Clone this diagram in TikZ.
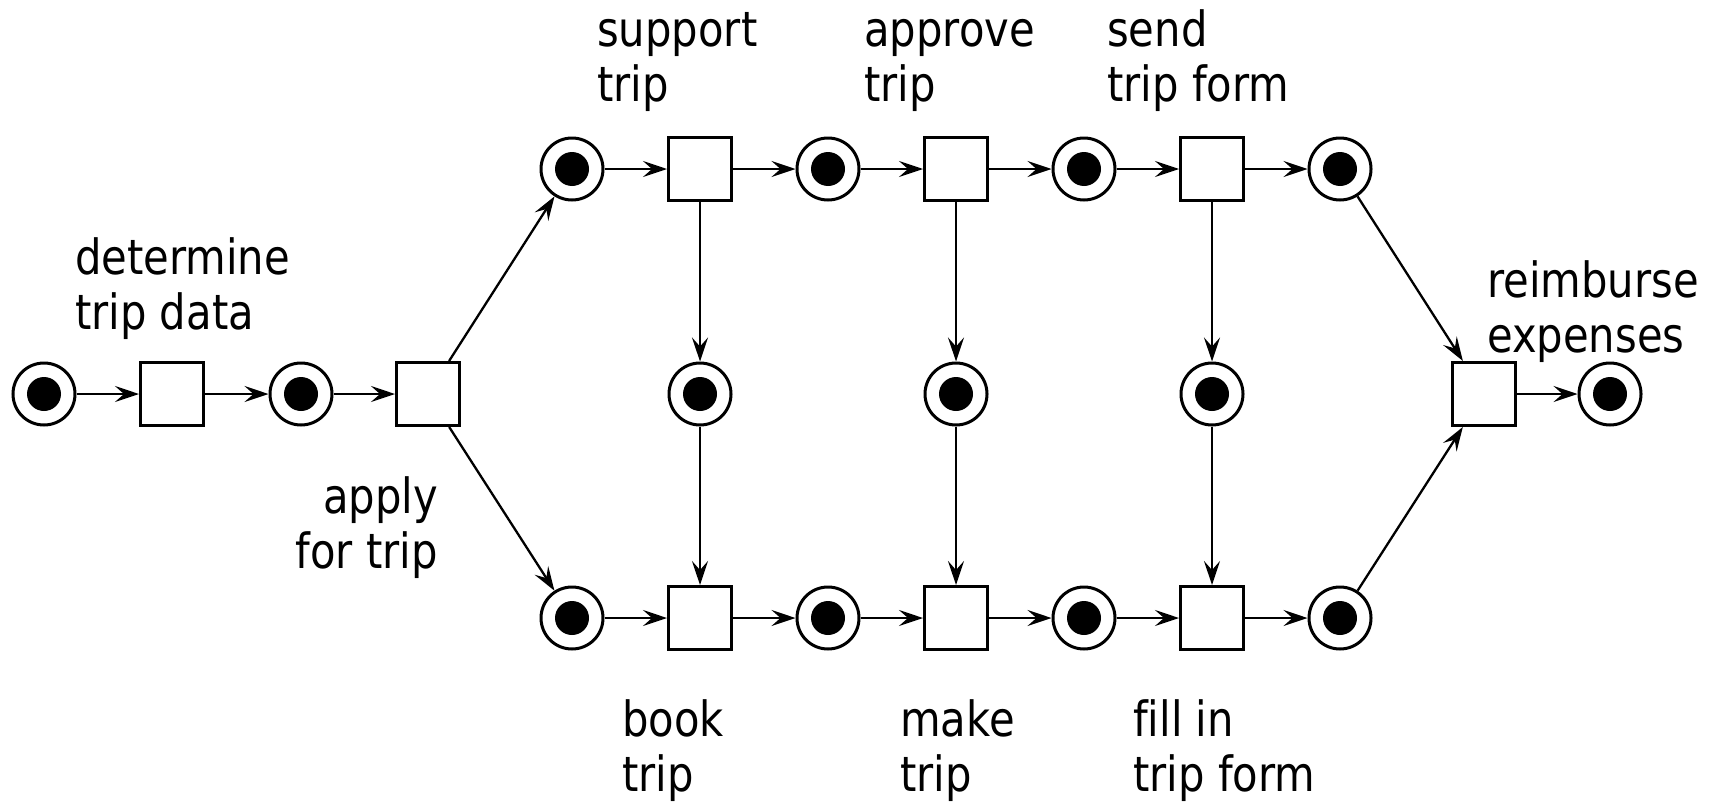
\documentclass[tikz,border=0pt]{standalone}
\usepackage{fontspec}
\setmainfont[FakeStretch=0.86,Ligatures=NoCommon]{DejaVu Sans}
\usetikzlibrary{arrows.meta}
\newcommand{\lleft}[1]{\vtop{\halign{##\hfil\cr#1\crcr}}}
\newcommand{\lright}[1]{\vtop{\halign{\hfil##\cr#1\crcr}}}
\begin{document}
\begin{tikzpicture}[x=1pt,y=-1pt,
  place/.style={circle,draw,line width=3pt,minimum size=62pt,inner sep=0pt,
    path picture={\fill (path picture bounding box.center) circle (17pt);}},
  trans/.style={rectangle,draw,line width=3pt,minimum size=63pt,inner sep=0pt},
  arc/.style={line width=2.3pt,-{Stealth[length=24pt,width=16pt,inset=9pt]}},
  lbl/.style={inner sep=0pt,font=\fontsize{48.5}{55}\selectfont}]
\useasboundingbox (0,0) rectangle (1715,803);
% places
\node[place] (p1) at (44,394) {};
\node[place] (p2) at (301,394) {};
\node[place] (pt1) at (572,169) {};
\node[place] (pt2) at (828,169) {};
\node[place] (pt3) at (1084,169) {};
\node[place] (pt4) at (1340,169) {};
\node[place] (pm1) at (700,394) {};
\node[place] (pm2) at (956,394) {};
\node[place] (pm3) at (1212,394) {};
\node[place] (pb1) at (572,618) {};
\node[place] (pb2) at (828,618) {};
\node[place] (pb3) at (1084,618) {};
\node[place] (pb4) at (1340,618) {};
\node[place] (pe) at (1610,394) {};
% transitions
\node[trans] (t1) at (172,394) {};
\node[trans] (t2) at (428,394) {};
\node[trans] (tt1) at (700,169) {};
\node[trans] (tt2) at (956,169) {};
\node[trans] (tt3) at (1212,169) {};
\node[trans] (tb1) at (700,618) {};
\node[trans] (tb2) at (956,618) {};
\node[trans] (tb3) at (1212,618) {};
\node[trans] (tr) at (1484,394) {};
% arcs
\draw[arc] (p1) -- (t1);
\draw[arc] (t1) -- (p2);
\draw[arc] (p2) -- (t2);
\draw[arc] (t2) -- (pt1);
\draw[arc] (t2) -- (pb1);
\draw[arc] (pt1) -- (tt1);
\draw[arc] (tt1) -- (pt2);
\draw[arc] (pt2) -- (tt2);
\draw[arc] (tt2) -- (pt3);
\draw[arc] (pt3) -- (tt3);
\draw[arc] (tt3) -- (pt4);
\draw[arc] (pb1) -- (tb1);
\draw[arc] (tb1) -- (pb2);
\draw[arc] (pb2) -- (tb2);
\draw[arc] (tb2) -- (pb3);
\draw[arc] (pb3) -- (tb3);
\draw[arc] (tb3) -- (pb4);
\draw[arc] (tt1) -- (pm1);
\draw[arc] (pm1) -- (tb1);
\draw[arc] (tt2) -- (pm2);
\draw[arc] (pm2) -- (tb2);
\draw[arc] (tt3) -- (pm3);
\draw[arc] (pm3) -- (tb3);
\draw[arc] (pt4) -- (tr);
\draw[arc] (pb4) -- (tr);
\draw[arc] (tr) -- (pe);
% labels
\node[lbl,anchor=base west] (l1) at (75,274) {\lleft{determine\cr trip data}};
\node[lbl,anchor=base east] (l2) at (438,513) {\lright{apply\cr for trip}};
\node[lbl,anchor=base west] (l3) at (597,46) {\lleft{support\cr trip}};
\node[lbl,anchor=base west] (l4) at (864,46) {\lleft{approve\cr trip}};
\node[lbl,anchor=base west] (l5) at (1107,46) {\lleft{send\cr trip form}};
\node[lbl,anchor=base west] (l6) at (1487,297) {\lleft{reimburse\cr expenses}};
\node[lbl,anchor=base west] (l7) at (622,736) {\lleft{book\cr trip}};
\node[lbl,anchor=base west] (l8) at (900,736) {\lleft{make\cr trip}};
\node[lbl,anchor=base west] (l9) at (1133,736) {\lleft{fill in\cr trip form}};
\end{tikzpicture}
\end{document}
